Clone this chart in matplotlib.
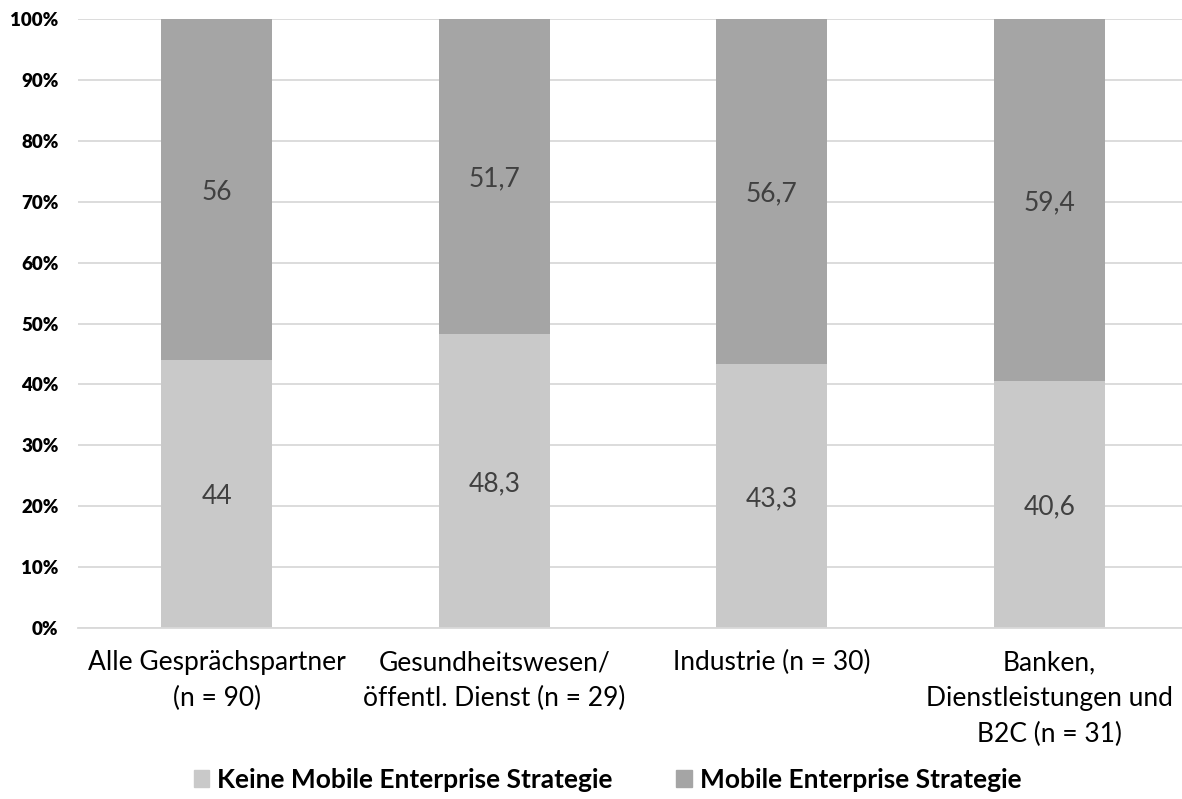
import matplotlib
matplotlib.use("Agg")
import matplotlib.pyplot as plt
import numpy as np
from matplotlib.patches import Patch

plt.rcParams["font.family"] = ["Lato", "DejaVu Sans"]

categories = [
    "Alle Gesprächspartner\n(n = 90)",
    "Gesundheitswesen/\nöffentl. Dienst (n = 29)",
    "Industrie (n = 30)",
    "Banken,\nDienstleistungen und\nB2C (n = 31)",
]
keine = [44, 48.3, 43.3, 40.6]
mobile = [56, 51.7, 56.7, 59.4]
series_names = ["Keine Mobile Enterprise Strategie", "Mobile Enterprise Strategie"]
yticks = [0, 10, 20, 30, 40, 50, 60, 70, 80, 90, 100]

c_light = "#C9C9C9"
c_dark = "#A5A5A5"
grid_c = "#D9D9D9"

fig = plt.figure(figsize=(11.82, 7.99), dpi=100)
ax = fig.add_axes([0.066, 0.214, 0.939, 0.762])

x = np.arange(len(categories))
width = 0.4
ax.bar(x, keine, width, color=c_light, zorder=2)
ax.bar(x, mobile, width, bottom=keine, color=c_dark, zorder=2)


def fmt(v):
    return f"{v:g}".replace(".", ",")


for xi, k, m in zip(x, keine, mobile):
    ax.text(xi, k / 2, fmt(k), ha="center", va="center_baseline", fontsize=19, color="#404040")
    ax.text(xi, k + m / 2, fmt(m), ha="center", va="center_baseline", fontsize=19, color="#404040")

ax.set_xlim(-0.5, len(categories) - 0.5)
ax.set_ylim(0, 100)
ax.set_yticks(yticks)
ax.set_yticklabels([f"{t}%" for t in yticks], fontsize=13.5, fontweight="heavy")
ax.set_xticks(x)
ax.set_xticklabels(categories, fontsize=19, linespacing=1.55)
ax.tick_params(axis="both", length=0, colors="black")
ax.tick_params(axis="x", pad=16)
ax.tick_params(axis="y", pad=14)

ax.yaxis.grid(True, color=grid_c, linewidth=1.3, zorder=0)
ax.set_axisbelow(True)
for side in ["top", "right", "left"]:
    ax.spines[side].set_visible(False)
ax.spines["bottom"].set_color(grid_c)
ax.spines["bottom"].set_linewidth(1.3)

handles = [Patch(color=c_light), Patch(color=c_dark)]
leg = fig.legend(handles, series_names, loc="center", bbox_to_anchor=(0.514, 0.024),
                 ncol=2, frameon=False, prop={"size": 19, "weight": "bold"},
                 handlelength=0.6, handleheight=0.6, handletextpad=0.3, columnspacing=2.4)

fig.savefig("out.png", dpi=100)
